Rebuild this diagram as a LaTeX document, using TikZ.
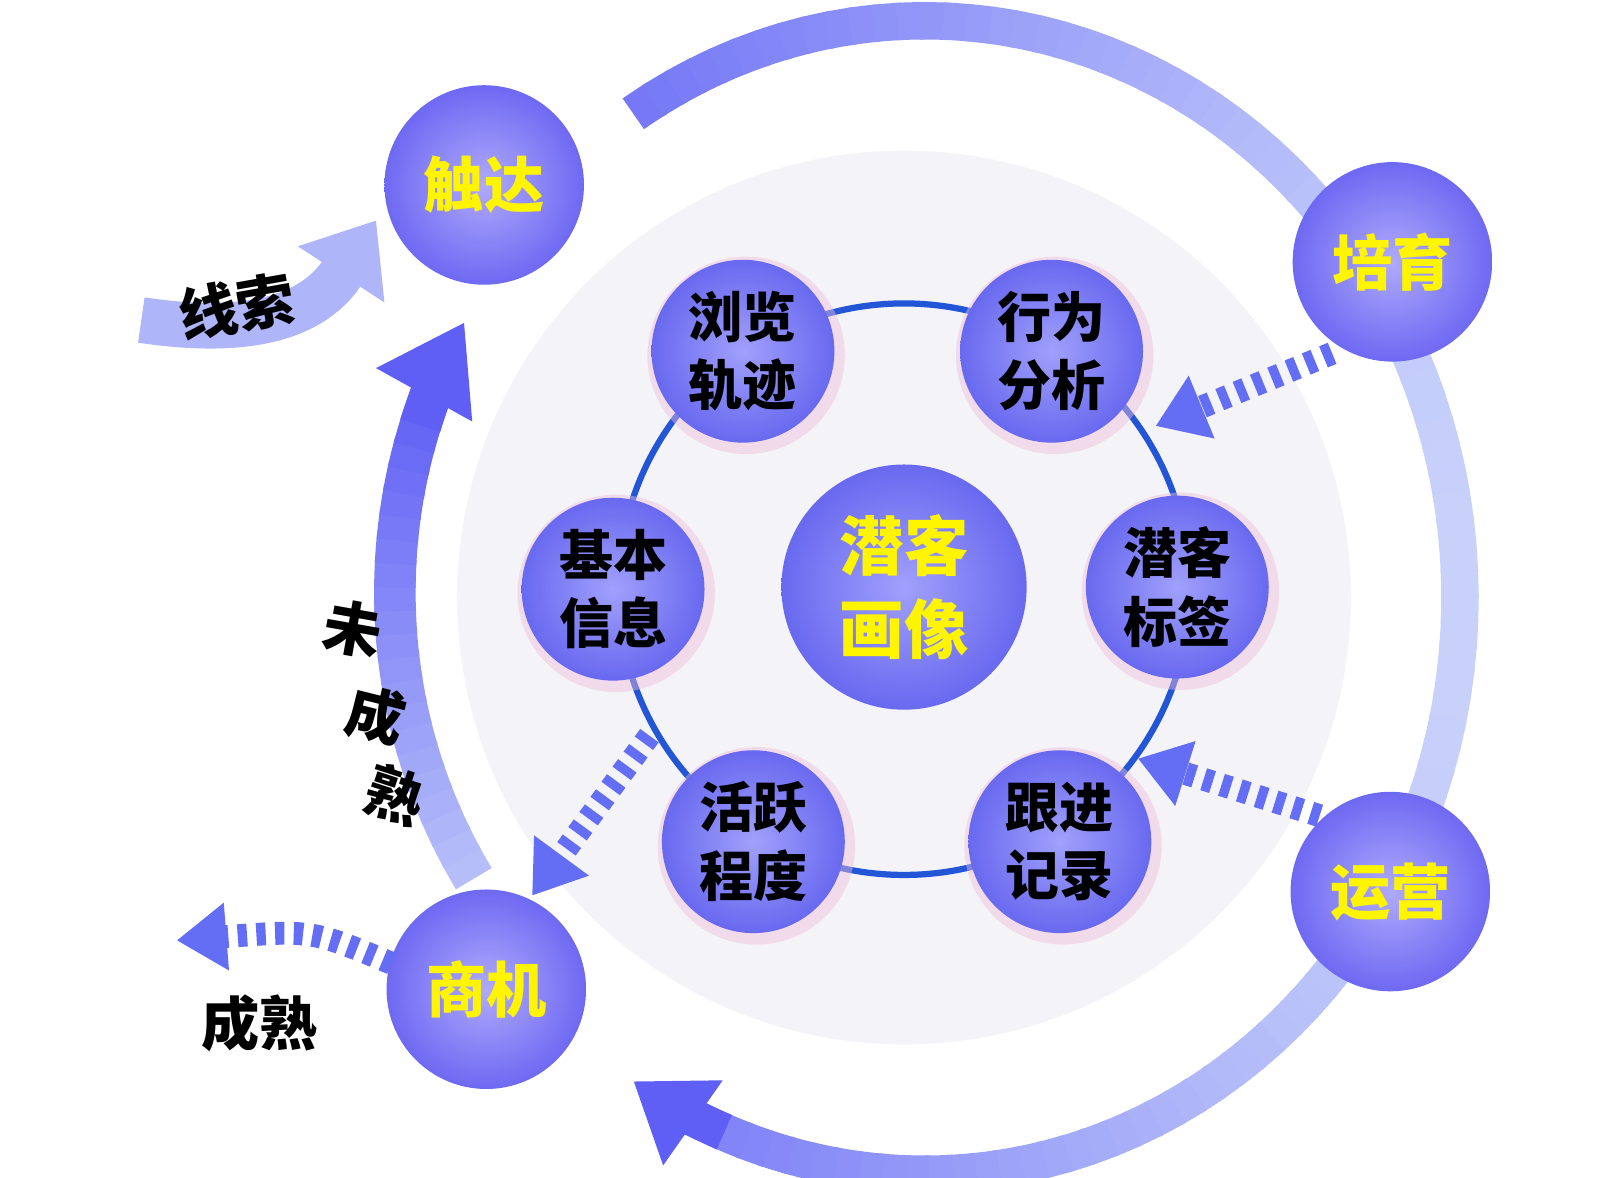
\documentclass[tikz,border=0pt]{standalone}
\usepackage{fontspec}
\newfontfamily\cjk{Noto Sans CJK SC}
\usetikzlibrary{arrows.meta}
\definecolor{dark}{RGB}{95,95,245}
\definecolor{light}{RGB}{200,210,250}
\definecolor{ringblue}{RGB}{35,85,215}
\definecolor{ytext}{RGB}{255,245,0}
\definecolor{bgc}{RGB}{243,243,248}
\definecolor{arrc}{RGB}{100,110,245}
\tikzset{
 big/.style={circle,minimum size=192pt,inner color={rgb,255:red,175;green,170;blue,252},outer color={rgb,255:red,110;green,105;blue,242},text=ytext,font=\cjk\bfseries\fontsize{58}{60}\selectfont},
 small/.style={circle,minimum size=176pt,inner color={rgb,255:red,160;green,160;blue,252},outer color={rgb,255:red,105;green,105;blue,240},text=black,align=center,font=\cjk\bfseries\fontsize{52}{66}\selectfont},
 glow/.style={circle,minimum size=190pt,fill={rgb,255:red,240;green,190;blue,220},opacity=0.45},
 dasharr/.style={line width=22pt,dash pattern=on 9pt off 9pt,color=arrc,-{Triangle[width=62pt,length=48pt]}},
 lbl/.style={text=black,font=\cjk\bfseries\fontsize{56}{60}\selectfont},
}
\begin{document}
\begin{tikzpicture}[x=1pt,y=-1pt]
\useasboundingbox (0,0) rectangle (1560,1133);
\fill[white] (0,0) rectangle (1560,1133);
% background
\fill[bgc] (870,575) circle (430);
% outer arc
\foreach \a in {123,120.5,...,-112}{
  \pgfmathtruncatemacro\p{50+50*cos(\a)}
  \colorlet{cc}{light!\p!dark}
  \draw[cc,line width=36pt] ([shift={(\a:515 and -555)}]890,575) arc[start angle=-\a,end angle=-\a+3,x radius=515,y radius=555];
}
\draw[dark,line width=36pt,-{Triangle[width=95pt,length=70pt]}] ([shift={(-112:515 and -555)}]890,575) arc[start angle=112,end angle=123,x radius=515,y radius=555];
% left arrow
\foreach \a in {212,209.5,...,162}{
  \pgfmathtruncatemacro\p{(\a-160)*1.6}
  \colorlet{cc}{light!\p!dark}
  \draw[cc,line width=40pt] ([shift={(\a:500 and -520)}]880,570) arc[start angle=-\a,end angle=-\a+3,x radius=500,y radius=520];
}
\draw[dark,line width=40pt,-{Triangle[width=100pt,length=80pt]}] ([shift={(162:500 and -520)}]880,570) arc[start angle=-162,end angle=-150,x radius=500,y radius=520];
% lead arrow
\draw[light!75!dark,line width=44pt,-{Triangle[width=95pt,length=62pt]}] (136,308) .. controls (250,325) and (305,300) .. (362,212);
% ring
\draw[ringblue,line width=6pt] (870,567) circle (275);
% glows
\foreach \x/\y in {715/338,1012/338,590/567,1133/565,725/810,1020/810}{\node[glow] at (\x+3,\y+4){};}
\node[small] (b1) at (715,338) {浏览\\轨迹};
\node[small] (b2) at (1012,338) {行为\\分析};
\node[small] (b3) at (590,567) {基本\\信息};
\node[small] (b4) at (1133,565) {潜客\\标签};
\node[small] (b5) at (725,810) {活跃\\程度};
\node[small] (b6) at (1020,810) {跟进\\记录};
\node[small,minimum size=236pt,text=ytext,font=\cjk\bfseries\fontsize{62}{80}\selectfont] (c) at (870,565) {潜客\\画像};
\node[big] (t) at (466,178) {触达};
\node[big] (p) at (1340,252) {培育};
\node[big] (y) at (1338,858) {运营};
\node[big] (s) at (468,952) {商机};
% dashed arrows
\coordinate (r1) at (625,708);
\coordinate (lft) at (170,905);
\draw[dasharr] (p.south west) ++(10,20) -- (1112,410);
\draw[dasharr] (y.north west) ++(0,-5) -- (1095,730);
\draw[dasharr] (r1) -- (512,862);
\draw[dasharr] (s.west) ++(5,-25) .. controls (300,895) .. (lft);
% labels
\node[lbl,rotate=10] (l1) at (228,295) {线索};
\node[lbl] (l2) at (250,985) {成熟};
\node[lbl,rotate=-10] (w1) at (340,605) {未};
\node[lbl,rotate=-14] (w2) at (362,688) {成};
\node[lbl,rotate=-18] (w3) at (380,765) {熟};
\end{tikzpicture}
\end{document}
